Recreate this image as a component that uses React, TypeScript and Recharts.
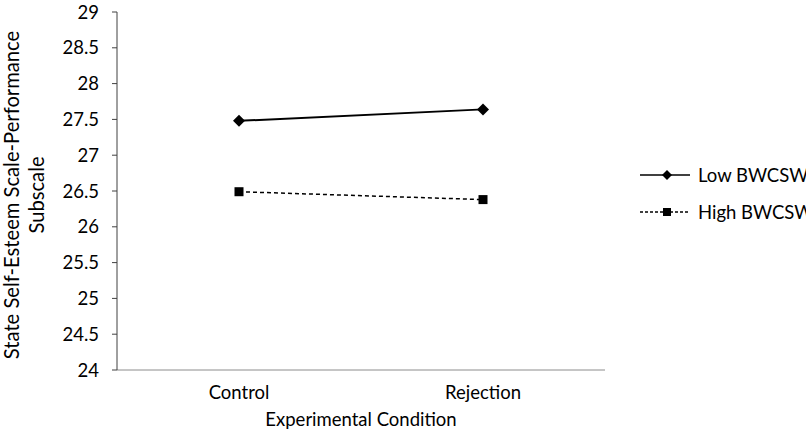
import React from "react";
import { LineChart, Line, XAxis, YAxis, Legend, Label } from "recharts";

const conditions = ["Control", "Rejection"];
const lowBWCSW = [27.48, 27.64];
const highBWCSW = [26.49, 26.38];
const yTicks = [24, 24.5, 25, 25.5, 26, 26.5, 27, 27.5, 28, 28.5, 29];

const data = conditions.map((c, i) => ({
  condition: c,
  low: lowBWCSW[i],
  high: highBWCSW[i],
}));

const FONT = "Lato, 'Open Sans', sans-serif";
const FS = 18.5;
const TITLE_FS = 20.2;

const Diamond = (props: any) => {
  const { cx, cy } = props;
  if (cx == null || cy == null) return null;
  const r = 6;
  return (
    <polygon
      points={`${cx},${cy - r} ${cx + r},${cy} ${cx},${cy + r} ${cx - r},${cy}`}
      fill="#000"
    />
  );
};

const Square = (props: any) => {
  const { cx, cy } = props;
  if (cx == null || cy == null) return null;
  const s = 9;
  return <rect x={cx - s / 2} y={cy - s / 2} width={s} height={s} fill="#000" />;
};

const YTitle = (props: any) => {
  const { viewBox } = props;
  const cy = viewBox.y + viewBox.height / 2 + 4;
  return (
    <g transform={`translate(0, ${cy}) rotate(-90)`}>
      <text x={0} y={19} textAnchor="middle" fontFamily={FONT} fontSize={TITLE_FS} fill="#000">
        State Self-Esteem Scale-Performance
      </text>
      <text x={0} y={44} textAnchor="middle" fontFamily={FONT} fontSize={TITLE_FS} fill="#000">
        Subscale
      </text>
    </g>
  );
};

const LegendContent = (props: any) => {
  const { payload } = props;
  return (
    <div style={{ fontFamily: FONT, fontSize: FS, color: "#000", whiteSpace: "nowrap" }}>
      {payload.map((entry: any, i: number) => {
        const isLow = entry.dataKey === "low";
        return (
          <div key={i} style={{ display: "flex", alignItems: "center", height: 37 }}>
            <svg width={56} height={14} style={{ marginRight: 2 }}>
              <line
                x1={0}
                y1={7}
                x2={50}
                y2={7}
                stroke="#000"
                strokeWidth={1.5}
                strokeDasharray={isLow ? undefined : "3 2"}
              />
              {isLow ? (
                <polygon points="27,2 32,7 27,12 22,7" fill="#000" />
              ) : (
                <rect x={23} y={3} width={8} height={8} fill="#000" />
              )}
            </svg>
            <span>{entry.value}</span>
          </div>
        );
      })}
    </div>
  );
};

export default function App() {
  return (
    <div style={{ position: "absolute", left: 0, top: 0, width: 806, height: 440, background: "#fff" }}>
      <LineChart
        width={806}
        height={440}
        data={data}
        margin={{ top: 12, right: 201, bottom: 0, left: 0 }}
      >
        <XAxis
          dataKey="condition"
          scale="band"
          stroke="#8c8c8c"
          tickLine={false}
          tick={{ fill: "#000", fontSize: FS, fontFamily: FONT }}
          tickMargin={10}
          height={70}
        >
          <Label
            value="Experimental Condition"
            position="insideBottom"
            offset={14}
            style={{ fill: "#000", fontSize: FS, fontFamily: FONT }}
          />
        </XAxis>
        <XAxis
          xAxisId="top"
          dataKey="condition"
          orientation="top"
          scale="band"
          stroke="#8c8c8c"
          tick={false}
          tickLine={false}
          height={0}
        />
        <YAxis
          domain={[24, 29]}
          ticks={yTicks}
          interval={0}
          stroke="#404040"
          tickSize={5}
          tickMargin={13}
          tick={{ fill: "#000", fontSize: FS, fontFamily: FONT }}
          width={117}
        >
          <Label content={<YTitle />} />
        </YAxis>
        <YAxis
          yAxisId="right"
          orientation="right"
          domain={[24, 29]}
          stroke="#8c8c8c"
          tick={false}
          tickLine={false}
          width={0}
        />
        <Legend
          layout="horizontal"
          align="center"
          verticalAlign="middle"
          itemSorter={null}
          content={<LegendContent />}
          wrapperStyle={{ left: 640, top: 156, width: 180 }}
        />
        <Line
          type="linear"
          dataKey="low"
          name="Low BWCSW"
          stroke="#000"
          strokeWidth={2}
          dot={<Diamond />}
          activeDot={false}
          isAnimationActive={false}
        />
        <Line
          type="linear"
          dataKey="high"
          name="High BWCSW"
          stroke="#000"
          strokeWidth={1.5}
          strokeDasharray="4 3"
          dot={<Square />}
          activeDot={false}
          isAnimationActive={false}
        />
      </LineChart>
    </div>
  );
}
